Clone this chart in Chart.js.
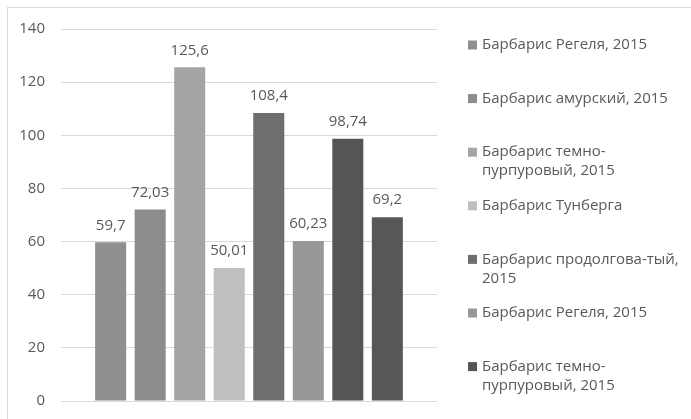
<!DOCTYPE html>
<html lang="ru">
<head>
    <meta charset="UTF-8">
    <title>Барбарис</title>
    <script src="https://cdn.jsdelivr.net/npm/chart.js"></script>
    <style>
        html, body { margin: 0; padding: 0; background: #fff; overflow: hidden; }
        #wrap { position: relative; width: 691px; height: 419px; }
        #frame { position: absolute; left: 7px; top: 7px; right: 0; bottom: 0;
                 border-top: 1.5px solid #d9d9d9; border-left: 1.5px solid #d9d9d9; }
        #chart { display: block; }
    </style>
</head>
<body>
    <div id="wrap">
        <div id="frame"></div>
        <canvas id="chart" width="691" height="419"></canvas>
    </div>

    <script>
        // series (one category, eight bars)
        const seriesNames = [
            'Барбарис Регеля, 2015',
            'Барбарис амурский, 2015',
            'Барбарис темно-пурпуровый, 2015',
            'Барбарис Тунберга',
            'Барбарис продолгова-тый, 2015',
            'Барбарис Регеля, 2015',
            'Барбарис темно-пурпуровый, 2015',
            ''   // 8th entry is cut off in the source legend
        ];
        const seriesValues = [59.7, 72.03, 125.6, 50.01, 108.4, 60.23, 98.74, 69.2];
        const seriesColors = ['#8f8f8f', '#8c8c8c', '#a5a5a5', '#bfbfbf', '#6e6e6e', '#989898', '#555555', '#575757'];
        const yTicks = [0, 20, 40, 60, 80, 100, 120, 140];

        const FONT = '"Open Sans", sans-serif';
        const TEXT = '#595959';

        // value labels above bars, decimal comma
        const valueLabels = {
            id: 'valueLabels',
            afterDatasetsDraw(chart) {
                const ctx = chart.ctx;
                ctx.save();
                ctx.font = '15px ' + FONT;
                ctx.fillStyle = TEXT;
                ctx.textAlign = 'center';
                ctx.textBaseline = 'middle';
                chart.data.datasets.forEach((ds, i) => {
                    const bar = chart.getDatasetMeta(i).data[0];
                    ctx.fillText(String(ds.data[0]).replace('.', ','), bar.x, bar.y - 17);
                });
                ctx.restore();
            }
        };

        // Excel-like legend on the right with wrapped text
        function wrap(ctx, text, maxW) {
            const parts = text.match(/[^\s-]+-?|\s+/g) || [];
            const lines = [];
            let cur = '';
            parts.forEach(p => {
                const test = cur + p;
                if (cur.trim() && ctx.measureText(test.trimEnd()).width > maxW) {
                    lines.push(cur.trimEnd());
                    cur = p.trimStart();
                } else {
                    cur = test;
                }
            });
            if (cur.trim()) lines.push(cur.trimEnd());
            return lines;
        }

        const sideLegend = {
            id: 'sideLegend',
            afterDraw(chart) {
                const ctx = chart.ctx;
                ctx.save();
                ctx.font = '15px ' + FONT;
                ctx.textBaseline = 'middle';
                chart.data.datasets.forEach((ds, i) => {
                    if (!ds.label) return;
                    const y = 45 + i * 53.6;
                    ctx.fillStyle = ds.backgroundColor;
                    ctx.fillRect(468, y - 4.5, 9, 9);
                    ctx.fillStyle = TEXT;
                    wrap(ctx, ds.label, 212).forEach((line, k) => {
                        ctx.fillText(line, 482, y + k * 19);
                    });
                });
                ctx.restore();
            }
        };

        const config = {
            type: 'bar',
            data: {
                labels: [''],
                datasets: seriesNames.map((name, i) => ({
                    label: name,
                    data: [seriesValues[i]],
                    backgroundColor: seriesColors[i],
                    categoryPercentage: 0.841,
                    barPercentage: 0.785
                }))
            },
            options: {
                responsive: false,
                animation: false,
                layout: { padding: { left: 0, right: 254, top: 29, bottom: 18 } },
                plugins: {
                    legend: { display: false },
                    tooltip: { enabled: false }
                },
                scales: {
                    x: { display: false },
                    y: {
                        min: 0,
                        max: 140,
                        afterFit(scale) {
                            scale.width = 61;
                            // tick padding would otherwise be added to the plot's top/bottom
                            scale.paddingTop = 0;
                            scale.paddingBottom = 0;
                        },
                        afterBuildTicks(scale) { scale.ticks = yTicks.map(v => ({ value: v })); },
                        border: { display: false },
                        grid: { color: '#d9d9d9', lineWidth: 1, drawTicks: false },
                        ticks: {
                            padding: 16,
                            color: TEXT,
                            font: { family: FONT, size: 15 }
                        }
                    }
                }
            },
            plugins: [valueLabels, sideLegend]
        };

        new Chart(document.getElementById('chart'), config);
    </script>
</body>
</html>
